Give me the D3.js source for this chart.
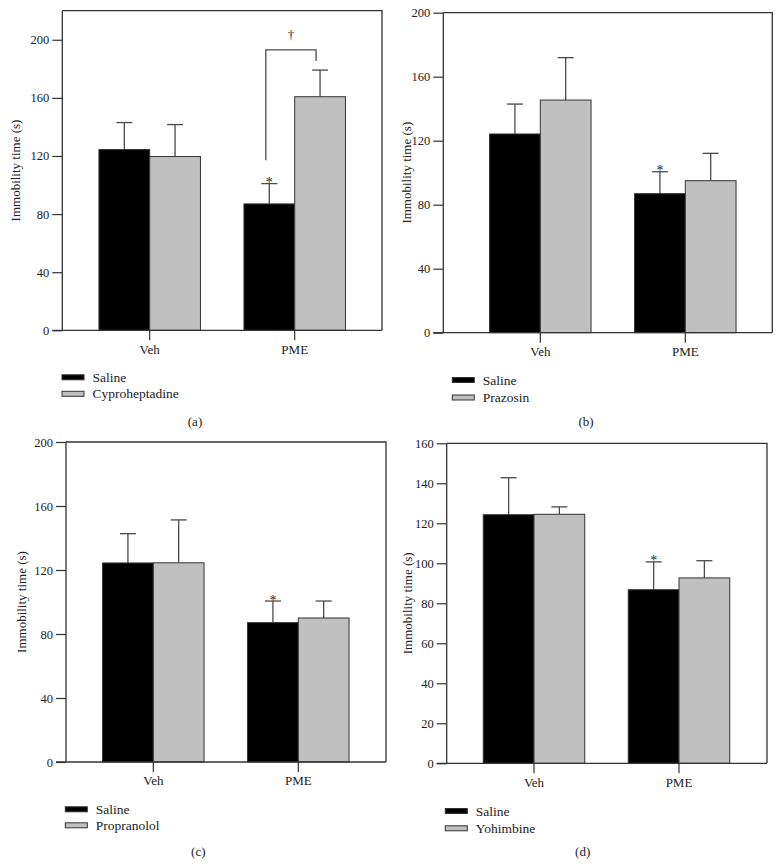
<!DOCTYPE html>
<html>
<head>
<meta charset="utf-8">
<script src="https://cdn.jsdelivr.net/npm/d3@7"></script>
<style>
  html, body { margin: 0; padding: 0; background: #fff; }
  svg { display: block; }
  svg text { font-family: "Liberation Serif", "Times New Roman", Times, "DejaVu Serif", serif !important; fill: #222; }
</style>
</head>
<body>
<svg id="chart" width="782" height="865"></svg>
<script>
// ---------------- DATA ----------------
const groups = ["Veh", "PME"];
const yLabel = "Immobility time (s)";

// (a) Cyproheptadine
const seriesA = ["Saline", "Cyproheptadine"];
const salineMeanA = [124.4, 87.0];
const salineSemA  = [18.6, 14.0];
const drugMeanA   = [119.6, 160.8];
const drugSemA    = [22.0, 18.3];
const ticksA      = [0, 40, 80, 120, 160, 200];

// (b) Prazosin
const seriesB = ["Saline", "Prazosin"];
const salineMeanB = [124.2, 86.9];
const salineSemB  = [18.7, 13.7];
const drugMeanB   = [145.4, 95.0];
const drugSemB    = [26.5, 17.1];
const ticksB      = [0, 40, 80, 120, 160, 200];

// (c) Propranolol
const seriesC = ["Saline", "Propranolol"];
const salineMeanC = [124.4, 87.1];
const salineSemC  = [18.3, 13.5];
const drugMeanC   = [124.5, 90.0];
const drugSemC    = [26.8, 10.6];
const ticksC      = [0, 40, 80, 120, 160, 200];

// (d) Yohimbine
const seriesD = ["Saline", "Yohimbine"];
const salineMeanD = [124.3, 86.8];
const salineSemD  = [18.5, 13.9];
const drugMeanD   = [124.5, 92.7];
const drugSemD    = [3.7, 8.6];
const ticksD      = [0, 20, 40, 60, 80, 100, 120, 140, 160];

// significance marks: [group index, series index, symbol]
const starsA = [[1, 0, "*"]];
const starsB = [[1, 0, "*"]];
const starsC = [[1, 0, "*"]];
const starsD = [[1, 0, "*"]];

// ---------------- LAYOUT ----------------
const panels = [
  { id: "(a)", series: seriesA, sm: salineMeanA, se: salineSemA, dm: drugMeanA, de: drugSemA, ticks: ticksA, ymax: 220, stars: starsA,
    frame: { l: 62.3, r: 382, t: 10.7, b: 330.3 }, band: [62.7, 381.7], ylabX: 15,
    legend: { x: 62, y: 377.3, dy: 16.5 }, caption: { x: 195, y: 421 },
    bracket: { yLeft: 117, yTop: 193, yRight: 185.4, dxL: -3.5, dxR: -4, sym: "\u2020" } },
  { id: "(b)", series: seriesB, sm: salineMeanB, se: salineSemB, dm: drugMeanB, de: drugSemB, ticks: ticksB, ymax: 200, stars: starsB,
    frame: { l: 443.3, r: 772.3, t: 12.7, b: 332.7 }, band: [453.3, 772.3], ylabX: 406,
    legend: { x: 452.3, y: 380, dy: 17.5 }, caption: { x: 586, y: 421 } },
  { id: "(c)", series: seriesC, sm: salineMeanC, se: salineSemC, dm: drugMeanC, de: drugSemC, ticks: ticksC, ymax: 200, stars: starsC,
    frame: { l: 66, r: 386, t: 442, b: 762 }, band: [66.3, 385.3], ylabX: 21.7,
    legend: { x: 65.3, y: 809.3, dy: 16 }, caption: { x: 198.3, y: 851 } },
  { id: "(d)", series: seriesD, sm: salineMeanD, se: salineSemD, dm: drugMeanD, de: drugSemD, ticks: ticksD, ymax: 160, stars: starsD,
    frame: { l: 446.7, r: 767, t: 443.3, b: 763.3 }, band: [447, 766], ylabX: 407.5,
    legend: { x: 445.3, y: 811, dy: 17.3 }, caption: { x: 582.7, y: 851 } }
];

const fills = ["#000000", "#c0c0c0"];
const FONT = "Liberation Serif, Times New Roman, serif";
const svg = d3.select("#chart");

panels.forEach(p => {
  const g = svg.append("g");
  const f = p.frame;
  const x = d3.scaleBand().domain(groups).range(p.band).paddingInner(0.3).paddingOuter(0.25);
  const xs = d3.scaleBand().domain([0, 1]).range([0, x.bandwidth()]).padding(0);
  const y = d3.scaleLinear().domain([0, p.ymax]).range([f.b, f.t]);

  const rows = [];
  groups.forEach((grp, i) => {
    rows.push({ grp, s: 0, mean: p.sm[i], sem: p.se[i] });
    rows.push({ grp, s: 1, mean: p.dm[i], sem: p.de[i] });
  });

  // error bars
  const cap = 8;
  const eb = g.append("g").attr("stroke", "#4a4a4a").attr("stroke-width", 1.3).attr("fill", "none");
  rows.forEach(d => {
    const cx = x(d.grp) + xs(d.s) + xs.bandwidth() / 2;
    eb.append("line").attr("x1", cx).attr("x2", cx).attr("y1", y(d.mean)).attr("y2", y(d.mean + d.sem));
    eb.append("line").attr("x1", cx - cap).attr("x2", cx + cap).attr("y1", y(d.mean + d.sem)).attr("y2", y(d.mean + d.sem));
  });

  // bars
  g.append("g").selectAll("rect").data(rows).join("rect")
    .attr("x", d => x(d.grp) + xs(d.s))
    .attr("y", d => y(d.mean))
    .attr("width", xs.bandwidth())
    .attr("height", d => y(0) - y(d.mean))
    .attr("fill", d => fills[d.s])
    .attr("stroke", "#333")
    .attr("stroke-width", 1);

  // frame (top + right)
  g.append("path")
    .attr("d", `M${f.l},${f.t}H${f.r}V${f.b}`)
    .attr("fill", "none").attr("stroke", "#333").attr("stroke-width", 1.3);

  // y axis
  const ya = d3.axisLeft(y).tickValues(p.ticks).tickSize(10).tickPadding(3).tickSizeOuter(0);
  const yg = g.append("g").attr("transform", `translate(${f.l},0)`).call(ya)
    .attr("font-family", FONT).attr("font-size", 12.5);
  yg.select(".domain").attr("d", `M0,${f.t}V${f.b}`).attr("stroke", "#333").attr("stroke-width", 1.3);
  yg.selectAll(".tick line").attr("stroke", "#333").attr("stroke-width", 1.2);
  yg.selectAll(".tick text").attr("fill", "#222");

  // x axis
  const xa = d3.axisBottom(x).tickSize(10).tickPadding(4).tickSizeOuter(0);
  const xg = g.append("g").attr("transform", `translate(0,${f.b})`).call(xa)
    .attr("font-family", FONT).attr("font-size", 13);
  xg.select(".domain").attr("d", `M${f.l - 10},0H${f.r}`).attr("stroke", "#333").attr("stroke-width", 1.3);
  xg.selectAll(".tick line").attr("stroke", "#333").attr("stroke-width", 1.2);
  xg.selectAll(".tick text").attr("fill", "#222");

  // y label
  g.append("text")
    .attr("transform", `translate(${p.ylabX},${(f.t + f.b) / 2}) rotate(-90)`)
    .attr("text-anchor", "middle").attr("dominant-baseline", "central")
    .attr("font-size", 13).text(yLabel);

  // stars
  p.stars.forEach(([gi, si, sym]) => {
    const d = rows.find(r => r.grp === groups[gi] && r.s === si);
    const cx = x(d.grp) + xs(d.s) + xs.bandwidth() / 2;
    g.append("text").attr("x", cx).attr("y", y(d.mean + d.sem) + 3.5)
      .attr("text-anchor", "middle").attr("font-size", 14).text(sym);
  });

  // bracket
  if (p.bracket) {
    const b = p.bracket;
    const xl = x(groups[1]) + xs(0) + xs.bandwidth() / 2 + b.dxL;
    const xr = x(groups[1]) + xs(1) + xs.bandwidth() / 2 + b.dxR;
    g.append("path")
      .attr("d", `M${xl},${y(b.yLeft)}V${y(b.yTop)}H${xr}V${y(b.yRight)}`)
      .attr("fill", "none").attr("stroke", "#4a4a4a").attr("stroke-width", 1.3);
    g.append("text").attr("x", (xl + xr) / 2).attr("y", y(b.yTop) - 11)
      .attr("text-anchor", "middle").attr("font-size", 13).text(b.sym);
  }

  // legend
  const lg = g.append("g");
  p.series.forEach((s, i) => {
    const cy = p.legend.y + i * p.legend.dy;
    lg.append("rect").attr("x", p.legend.x).attr("y", cy - 2.5).attr("width", 22).attr("height", 5)
      .attr("fill", fills[i]).attr("stroke", "#333").attr("stroke-width", 1);
    lg.append("text").attr("x", p.legend.x + 30.5).attr("y", cy).attr("dominant-baseline", "central")
      .attr("font-size", 13.5).text(s);
  });

  // caption
  g.append("text").attr("x", p.caption.x).attr("y", p.caption.y)
    .attr("text-anchor", "middle").attr("dominant-baseline", "central")
    .attr("font-size", 13).text(p.id);
});
</script>
</body>
</html>
